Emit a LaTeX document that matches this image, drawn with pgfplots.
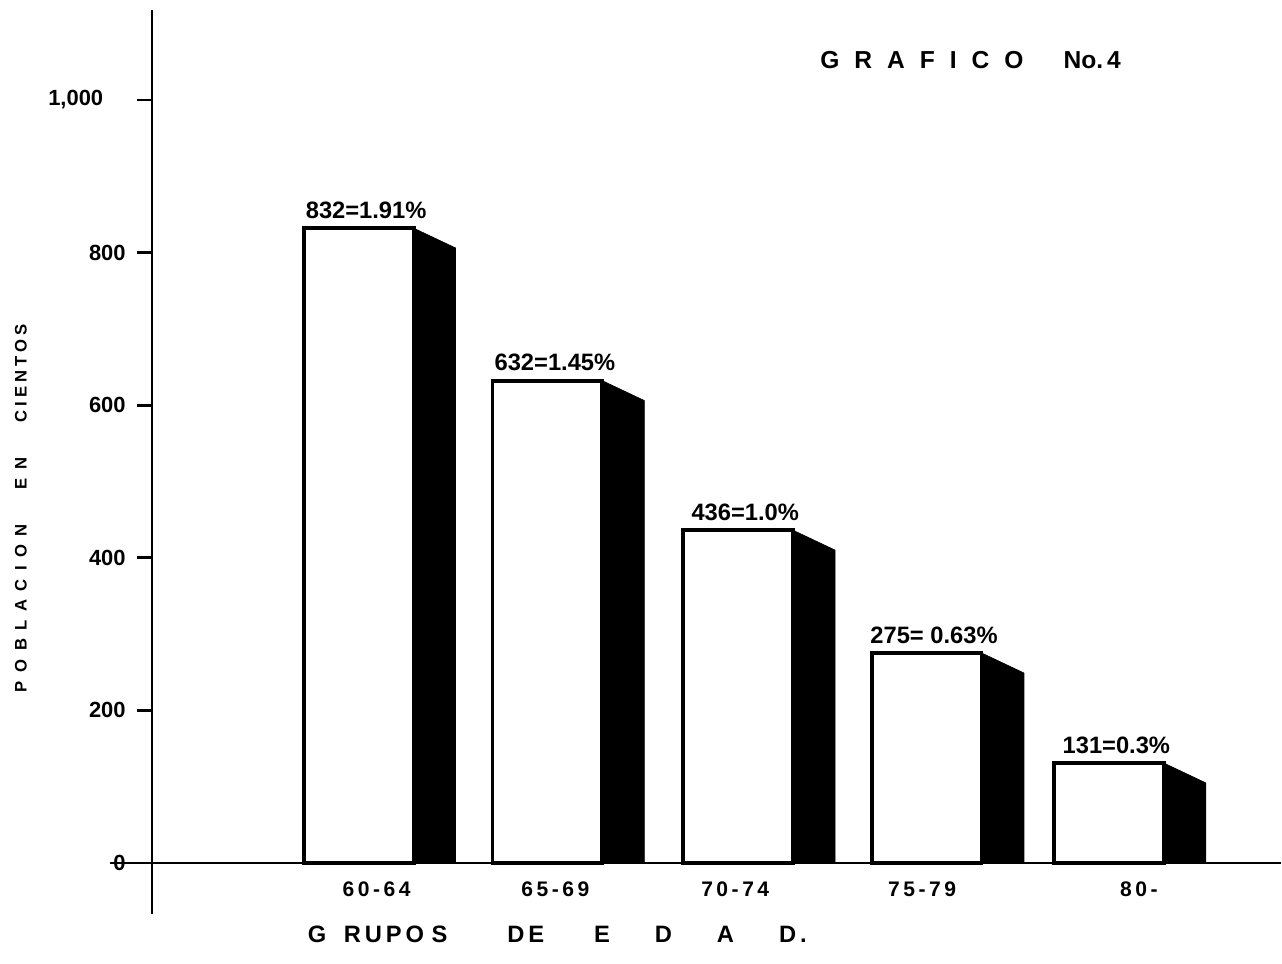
\documentclass[border=0pt]{standalone}
\usepackage{fontspec}
\setmainfont{Liberation Sans}
\usepackage{pgfplots}
\pgfplotsset{compat=1.18}

% spaced lettering as in the hand-drawn original
\newcommand{\ls}{\hspace{0.3cm}}

\begin{document}
\begin{tikzpicture}
\begin{axis}[
    scale only axis,
    width=22.6cm, height=17.08cm,
    xmin=1.52, xmax=12.82,
    ymin=0, ymax=1118,
    axis x line=bottom, axis y line=left,
    axis line style={-, line width=1.5pt},
    ytick={0,200,400,600,800,1000},
    yticklabels={0,200,400,600,800,{1,000\kern0.45cm}},
    tick align=outside,
    major tick length=0.3cm,
    ytick style={line width=1.5pt, black},
    yticklabel style={font=\fontsize{12.5}{14}\selectfont\bfseries, xshift=-0.1cm},
    xtick={3.77,5.56,7.36,9.23,11.40},
    xticklabels={6\,0\,-\,6\,4, 6\,5\,-\,6\,9, 7\,0\,-\,7\,4, 7\,5\,-\,7\,9, 8\,0\,-},
    xtick style={draw=none},
    xticklabel style={font=\fontsize{12}{14}\selectfont\bfseries, yshift=0.05cm},
    clip=false,
]
  % black side faces
  \addplot[fill=black, draw=black] coordinates {(4.14,0) (4.14,832) (4.56,806) (4.56,0)} --cycle;
  \addplot[fill=black, draw=black] coordinates {(6.03,0) (6.03,632) (6.45,606) (6.45,0)} --cycle;
  \addplot[fill=black, draw=black] coordinates {(7.94,0) (7.94,436) (8.36,410) (8.36,0)} --cycle;
  \addplot[fill=black, draw=black] coordinates {(9.83,0) (9.83,275) (10.25,249) (10.25,0)} --cycle;
  \addplot[fill=black, draw=black] coordinates {(11.65,0) (11.65,131) (12.07,105) (12.07,0)} --cycle;

  % white fronts with value labels
  \addplot[ybar, bar width=1.1, bar shift=0pt, fill=white, draw=black,
           line width=2.2pt,
           point meta=explicit symbolic, nodes near coords,
           nodes near coords style={font=\fontsize{13.5}{15}\selectfont\bfseries,
                                    anchor=south, yshift=1pt, xshift=0.15cm}]
    coordinates {
      (3.59,832) [832=1.91\%]
      (5.48,632) [632=1.45\%]
      (7.385,436) [436=1.0\%]
      (9.275,275) [275= 0.63\%]
      (11.10,131) [131=0.3\%]
    };

  % axis extensions past the crossing
  \draw[line width=1.5pt] (axis cs:1.10,0) -- (axis cs:1.52,0);
  \draw[line width=1.5pt] (axis cs:1.52,-67) -- (axis cs:1.52,0);

  % titles
  \node[anchor=west, font=\fontsize{14}{16}\selectfont\bfseries]
    at (axis cs:8.15,1052) {G\ls R\ls A\ls F\ls I\ls C\ls O\hspace{0.8cm}No.\,4};
  \node[anchor=west, font=\fontsize{13.5}{16}\selectfont\bfseries]
    at (axis cs:3.02,-93)
    {G\hspace{0.35cm}R\,U\,P\,O\hspace{0.15cm}S\hspace{1.2cm}D\,E\hspace{1.0cm}E\hspace{0.9cm}D\hspace{0.9cm}A\hspace{0.9cm}D\,.};
  \node[rotate=90, anchor=west, font=\fontsize{9.5}{11}\selectfont\bfseries]
    at (axis cs:0.21,216)
    {P\hspace{0.17cm}O\hspace{0.17cm}B\hspace{0.17cm}L\hspace{0.17cm}A\hspace{0.17cm}C\hspace{0.17cm}I\hspace{0.17cm}O\hspace{0.17cm}N\hspace{0.7cm}E\hspace{0.17cm}N\hspace{0.7cm}C\hspace{0.08cm}I\hspace{0.08cm}E\hspace{0.08cm}N\hspace{0.08cm}T\hspace{0.08cm}O\hspace{0.08cm}S};

  % picture frame of the scanned sheet
  \path (axis cs:0,-131) rectangle (axis cs:12.82,1131);
\end{axis}
\end{tikzpicture}
\end{document}
